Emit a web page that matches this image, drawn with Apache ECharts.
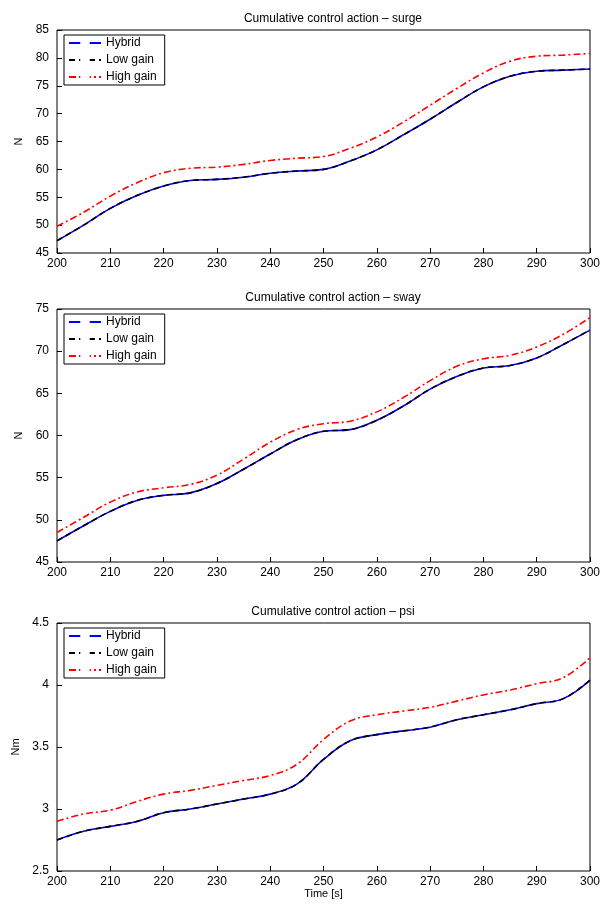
<!DOCTYPE html>
<html>
<head>
<meta charset="utf-8">
<script src="https://cdn.jsdelivr.net/npm/echarts@6/dist/echarts.min.js"></script>
<style>html,body{margin:0;padding:0;background:#fff}#main{width:603px;height:904px}</style>
</head>
<body>
<div id="main"></div>
<script>
var time = [200, 205, 210, 215, 220, 225, 230, 235, 240, 245, 250, 255, 260, 265, 270, 275, 280, 285, 290, 295, 300];
var surgeHybrid = [47.2, 50, 53, 55.3, 57, 58, 58.2, 58.6, 59.3, 59.7, 60, 61.5, 63.5, 66.2, 69, 72, 74.8, 76.7, 77.6, 77.8, 78];
var surgeLow = [47.2, 50, 53, 55.3, 57, 58, 58.2, 58.6, 59.3, 59.7, 60, 61.5, 63.5, 66.2, 69, 72, 74.8, 76.7, 77.6, 77.8, 78];
var surgeHigh = [49.8, 52.3, 55.2, 57.6, 59.4, 60.2, 60.4, 60.9, 61.6, 62, 62.3, 63.8, 65.8, 68.5, 71.5, 74.5, 77.3, 79.4, 80.3, 80.5, 80.8];
var swayHybrid = [47.5, 49.3, 51, 52.3, 52.9, 53.2, 54.3, 56, 57.8, 59.5, 60.5, 60.7, 61.8, 63.5, 65.5, 67, 68, 68.3, 69.2, 70.8, 72.5];
var swayLow = [47.5, 49.3, 51, 52.3, 52.9, 53.2, 54.3, 56, 57.8, 59.5, 60.5, 60.7, 61.8, 63.5, 65.5, 67, 68, 68.3, 69.2, 70.8, 72.5];
var swayHigh = [48.5, 50.3, 52.1, 53.3, 53.8, 54.2, 55.3, 57.2, 59.2, 60.7, 61.4, 61.7, 62.8, 64.5, 66.5, 68.2, 69.1, 69.5, 70.5, 72, 74];
var psiHybrid = [2.75, 2.82, 2.86, 2.9, 2.97, 3.0, 3.04, 3.08, 3.12, 3.2, 3.4, 3.55, 3.6, 3.63, 3.66, 3.72, 3.76, 3.8, 3.85, 3.89, 4.04];
var psiLow = [2.75, 2.82, 2.86, 2.9, 2.97, 3.0, 3.04, 3.08, 3.12, 3.2, 3.4, 3.55, 3.6, 3.63, 3.66, 3.72, 3.76, 3.8, 3.85, 3.89, 4.04];
var psiHigh = [2.9, 2.96, 2.99, 3.06, 3.12, 3.15, 3.19, 3.23, 3.27, 3.36, 3.56, 3.71, 3.76, 3.79, 3.82, 3.87, 3.92, 3.96, 4.01, 4.06, 4.22];
var names = ['Hybrid', 'Low gain', 'High gain'];

function pairs(v) {
    var out = [];
    for (var i = 0; i < time.length; i++) out.push([time[i], v[i]]);
    return out;
}

var font = 'Liberation Sans, Arial, sans-serif';
var panels = [
    {title: 'Cumulative control action \u2013 surge', unit: 'N', min: 45, max: 85, step: 5, d: [surgeHybrid, surgeLow, surgeHigh], top: 30, h: 223},
    {title: 'Cumulative control action \u2013 sway', unit: 'N', min: 45, max: 75, step: 5, d: [swayHybrid, swayLow, swayHigh], top: 309, h: 253},
    {title: 'Cumulative control action \u2013 psi', unit: 'Nm', min: 2.5, max: 4.5, step: 0.5, d: [psiHybrid, psiLow, psiHigh], top: 623, h: 248}
];

var option = {animation: false, title: [], grid: [], xAxis: [], yAxis: [], legend: [], series: []};
panels.forEach(function(p, k) {
    option.title.push({text: p.title, left: 328, textAlign: 'center', top: p.top - 22,
        textStyle: {fontFamily: font, fontSize: 12, fontWeight: 'normal', color: '#000'}});
    option.grid.push({left: 57, right: 3, top: p.top, height: p.h, show: true, borderColor: '#000', borderWidth: 1});
    option.xAxis.push({type: 'value', gridIndex: k, min: 200, max: 300, interval: 10,
        name: k == 2 ? 'Time [s]' : '', nameLocation: 'middle', nameGap: 16,
        nameTextStyle: {fontFamily: font, fontSize: 11, color: '#000'},
        axisLine: {show: false}, axisTick: {inside: true, lineStyle: {color: '#000'}},
        axisLabel: {fontFamily: font, fontSize: 12, color: '#000', margin: 5}, splitLine: {show: false}});
    option.yAxis.push({type: 'value', gridIndex: k, min: p.min, max: p.max, interval: p.step,
        name: p.unit, nameLocation: 'middle', nameGap: 32,
        nameTextStyle: {fontFamily: font, fontSize: 11, color: '#000'},
        axisLine: {show: false}, axisTick: {inside: true, lineStyle: {color: '#000'}},
        axisLabel: {fontFamily: font, fontSize: 12, color: '#000'}, splitLine: {show: false}});
    var styles = [
        {color: '#0000ff', type: 'solid', width: 1.6},
        {color: '#000', type: [6, 4], width: 1.6},
        {color: '#ff0000', type: [7, 3, 2, 3], width: 1.6}
    ];
    for (var j = 0; j < 3; j++) {
        option.series.push({type: 'line', name: names[j], xAxisIndex: k, yAxisIndex: k,
            data: pairs(p.d[j]), smooth: 0.4, showSymbol: false,
            lineStyle: styles[j], itemStyle: {color: styles[j].color}});
    }
    option.legend.push({data: names, orient: 'vertical', left: 64, top: p.top + 5,
        itemWidth: 32, itemHeight: 12, itemGap: 5,
        itemStyle: {color: 'transparent', borderWidth: 0},
        padding: [2, 8, 2, 4], borderColor: '#000', borderWidth: 1, backgroundColor: '#fff',
        textStyle: {fontFamily: font, fontSize: 12, color: '#000'}, selectedMode: false});
});

var chart = echarts.init(document.getElementById('main'));
chart.setOption(option);
</script>
</body>
</html>
